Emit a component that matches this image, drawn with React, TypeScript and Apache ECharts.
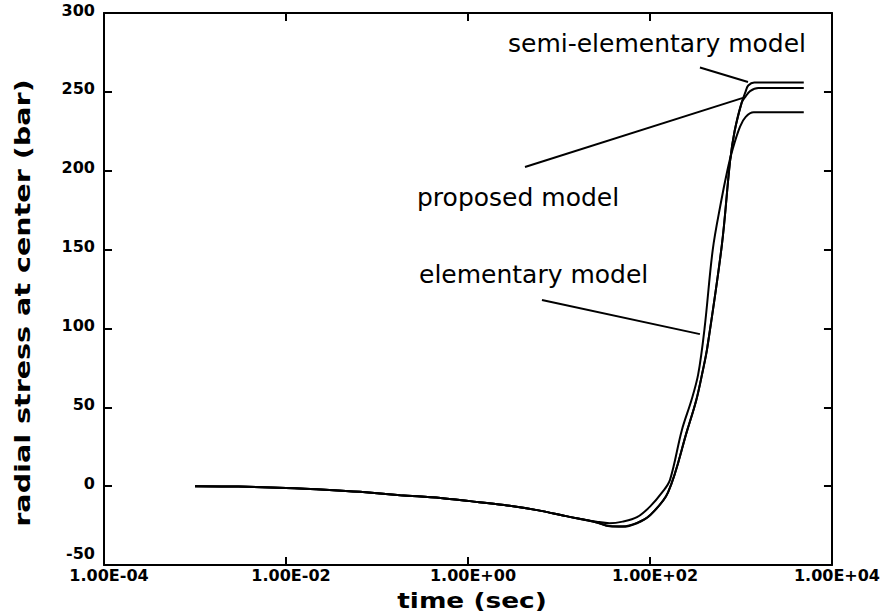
import React, { useEffect, useRef } from "react";
import * as echarts from "echarts";

// Time axis (sec) and radial stress at center (bar) for each model
const elementaryTime = [0.001, 0.003, 0.01, 0.03, 0.065, 0.18, 0.5, 1.05, 2.5, 5.75, 12, 26, 36, 50, 72, 100, 138, 166, 224, 286, 339, 398, 490, 603, 708, 813, 977, 1122, 1380, 4900];
const elementaryStress = [0, -0.3, -1.1, -2.4, -3.6, -5.7, -7.5, -9.5, -12, -15.2, -19, -22.5, -23.5, -22.5, -19.7, -13, -3.5, 4, 35.5, 54.6, 71, 100, 150, 180, 200, 214, 228, 234, 237, 237];

const semiTime = [0.001, 0.003, 0.01, 0.03, 0.065, 0.18, 0.5, 1.05, 2.5, 5.75, 12, 26, 36, 50, 72, 100, 158, 257, 323, 380, 427, 617, 759, 851, 1016, 1122, 1202, 1400, 4900];
const semiStress = [0, -0.3, -1.1, -2.4, -3.6, -5.7, -7.5, -9.5, -12, -15.2, -19, -23, -25.5, -25.8, -23.5, -18.5, -4, 35.5, 54.6, 73, 88, 153, 206, 225, 243, 250, 254, 256, 256];

const proposedTime = [0.001, 0.003, 0.01, 0.03, 0.065, 0.18, 0.5, 1.05, 2.5, 5.75, 12, 26, 36, 50, 72, 100, 158, 257, 323, 380, 427, 617, 759, 851, 1016, 1122, 1259, 1549, 4900];
const proposedStress = [0, -0.3, -1.1, -2.4, -3.6, -5.7, -7.5, -9.5, -12, -15.2, -19, -23, -25.3, -25.5, -23.3, -18.5, -4, 35.5, 54.6, 73, 88, 153, 206, 225, 243, 247, 250.5, 252.5, 252.5];

// Leader lines from each caption to its curve: [time, stress] end points
const semiLeader = [[354, 265.4], [1194, 256.2]];
const proposedLeader = [[4.23, 202.4], [1052, 246.2]];
const elementaryLeader = [[6.5, 118], [354, 96.4]];

const yTicks = { min: -50, max: 300, step: 50 };
const xRange = { min: 1e-4, max: 1e4 };

const zip = (t: number[], v: number[]) => t.map((x, i) => [x, v[i]]);

const fmtExp = (v: number) => {
  const e = Math.round(Math.log10(v));
  const s = e < 0 ? "-" : "+";
  return "1.00E" + s + String(Math.abs(e)).padStart(2, "0");
};

export default function App() {
  const ref = useRef<HTMLDivElement>(null);

  useEffect(() => {
    if (!ref.current) return;
    const chart = echarts.init(ref.current, undefined, { renderer: "svg" });

    const curve = (name: string, data: number[][]) => ({
      name,
      type: "line",
      data,
      symbol: "none",
      smooth: 0.35,
      lineStyle: { color: "#000", width: 2 },
      silent: true,
      z: 3,
    });
    const leader = (data: number[][]) => ({
      type: "line",
      data,
      symbol: "none",
      lineStyle: { color: "#000", width: 2 },
      silent: true,
      z: 4,
    });

    const axisLine = { show: true, onZero: false, lineStyle: { color: "#000", width: 2 } };
    const axisTick = { show: true, inside: true, length: 8, lineStyle: { color: "#000", width: 2 } };
    const labelFont = { fontFamily: "DejaVu Sans", fontWeight: "bold", fontSize: 16, color: "#000" };

    const caption = (text: string, x: number, y: number) => ({
      type: "text",
      x,
      y,
      silent: true,
      style: {
        text,
        fill: "#000",
        fontFamily: "DejaVu Sans",
        fontSize: 25,
        align: "left",
        verticalAlign: "middle",
        textAlign: "left",
        textVerticalAlign: "middle",
      },
    });

    chart.setOption({
      animation: false,
      backgroundColor: "#fff",
      grid: { left: 104, right: 51, top: 13, bottom: 50 },
      xAxis: [
        {
          type: "log",
          logBase: 100,
          min: xRange.min,
          max: xRange.max,
          position: "bottom",
          axisLine,
          axisTick,
          minorTick: { show: false },
          splitLine: { show: false },
          axisLabel: {
            ...labelFont,
            margin: 2,
            padding: [0, 0, 0, 10],
            showMinLabel: true,
            showMaxLabel: true,
            formatter: fmtExp,
          },
        },
        {
          type: "log",
          logBase: 100,
          min: xRange.min,
          max: xRange.max,
          position: "top",
          axisLine,
          axisTick,
          minorTick: { show: false },
          splitLine: { show: false },
          axisLabel: { show: false },
        },
      ],
      yAxis: [
        {
          type: "value",
          min: yTicks.min,
          max: yTicks.max,
          interval: yTicks.step,
          position: "left",
          axisLine,
          axisTick,
          splitLine: { show: false },
          axisLabel: {
            ...labelFont,
            margin: 9,
            formatter: (v: number) => (v === -50 ? `{lo|${v}}` : `{n|${v}}`),
            rich: {
              n: { ...labelFont, padding: [0, 0, 6, 0] },
              lo: { ...labelFont, padding: [0, 0, 24, 0] },
            },
          },
        },
        {
          type: "value",
          min: yTicks.min,
          max: yTicks.max,
          interval: yTicks.step,
          position: "right",
          axisLine,
          axisTick,
          splitLine: { show: false },
          axisLabel: { show: false },
        },
      ],
      series: [
        curve("elementary model", zip(elementaryTime, elementaryStress)),
        curve("semi-elementary model", zip(semiTime, semiStress)),
        curve("proposed model", zip(proposedTime, proposedStress)),
        leader(semiLeader),
        leader(proposedLeader),
        leader(elementaryLeader),
      ],
      graphic: [
        caption("semi-elementary model", 508, 43),
        caption("proposed model", 417, 197),
        caption("elementary model", 419, 274),
        {
          type: "text",
          x: 22,
          y: 303,
          rotation: Math.PI / 2,
          scaleX: 1.3,
          silent: true,
          style: {
            text: "radial stress at center (bar)",
            fill: "#000",
            fontFamily: "DejaVu Sans",
            fontWeight: "bold",
            fontSize: 22,
            align: "center",
            verticalAlign: "middle",
            textAlign: "center",
            textVerticalAlign: "middle",
          },
        },
        {
          type: "text",
          x: 472,
          y: 600,
          scaleX: 1.2,
          silent: true,
          style: {
            text: "time (sec)",
            fill: "#000",
            fontFamily: "DejaVu Sans",
            fontWeight: "bold",
            fontSize: 22,
            align: "center",
            verticalAlign: "middle",
            textAlign: "center",
            textVerticalAlign: "middle",
          },
        },
      ],
    });

    return () => chart.dispose();
  }, []);

  return (
    <div
      ref={ref}
      style={{ position: "fixed", left: 0, top: 0, width: 883, height: 615, background: "#fff" }}
    />
  );
}
